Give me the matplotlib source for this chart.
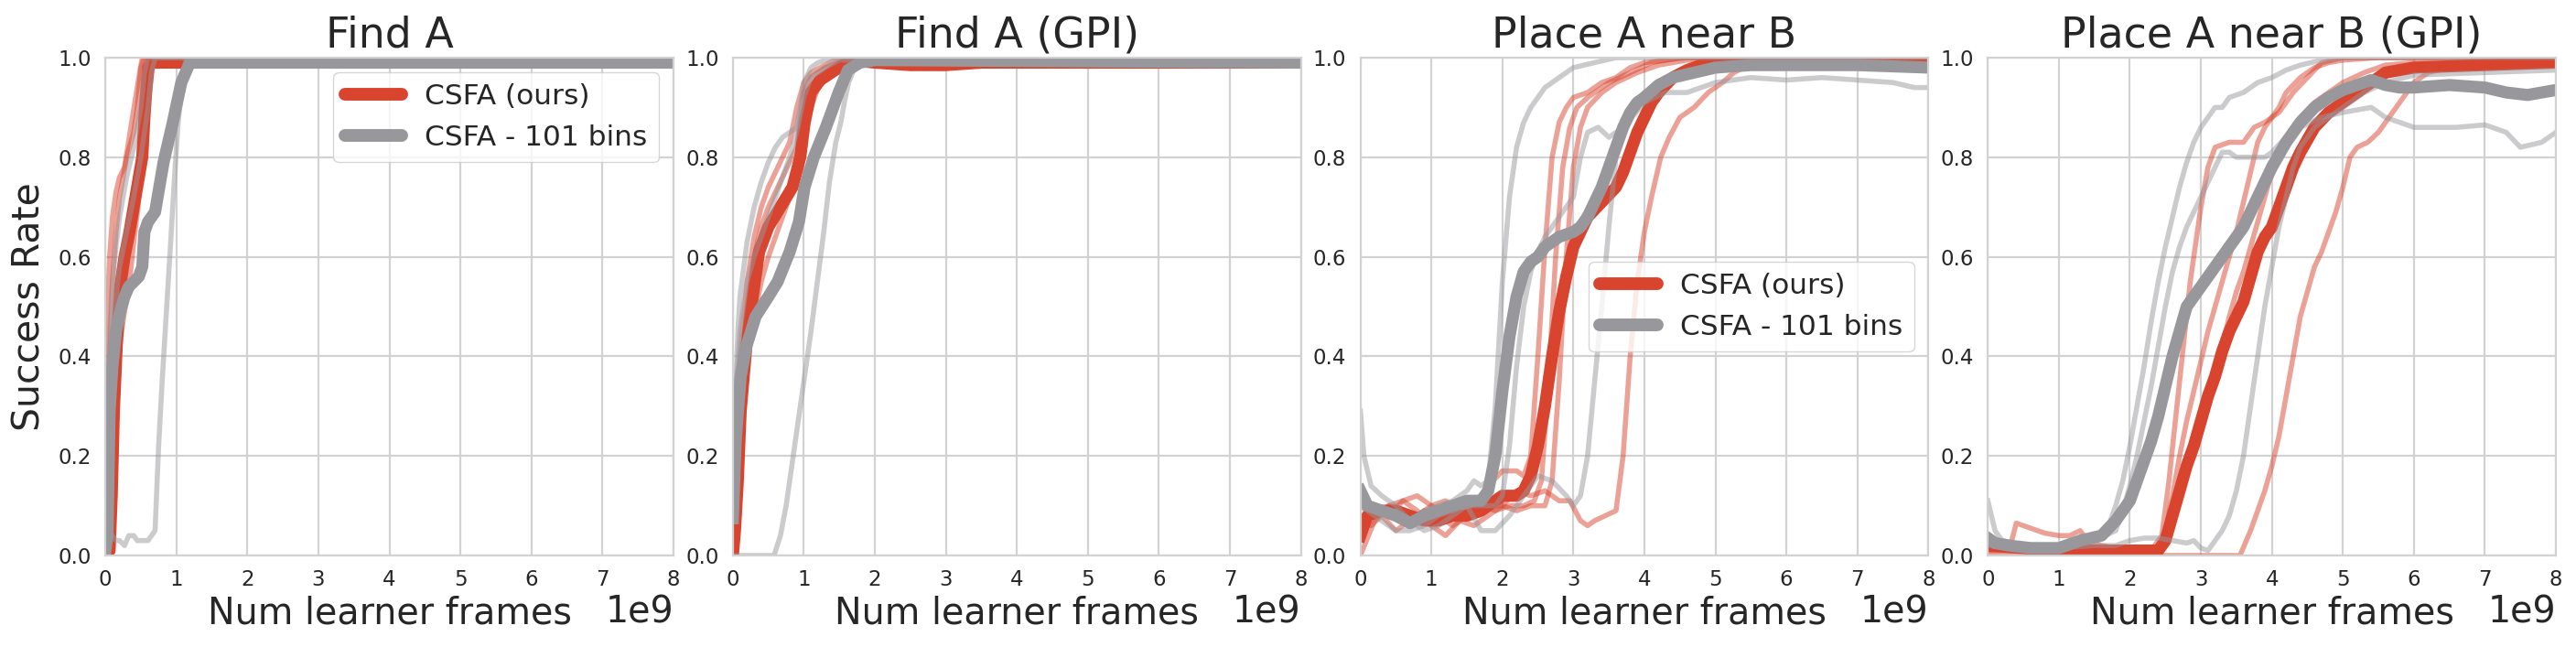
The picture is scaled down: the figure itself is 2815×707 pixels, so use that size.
import matplotlib

matplotlib.use("Agg")
import matplotlib.pyplot as plt
from matplotlib.lines import Line2D
import numpy as np

RED = "#d9442f"
GRAY = "#98979c"
TEXT = "#262626"
GRID = "#d2d2d2"

TITLES = ["Find A", "Find A (GPI)", "Place A near B", "Place A near B (GPI)"]
LABELS = ["CSFA (ours)", "CSFA - 101 bins"]
FRAME_UNIT = 1e9  # x values below are in units of 1e9 learner frames

# ---------------- Find A ----------------
FIND_RED_SEED_X = [
    [0, 0.03, 0.06, 0.1, 0.15, 0.2, 0.27, 0.37, 0.46, 0.52, 8],
    [0, 0.05, 0.1, 0.15, 0.2, 0.28, 0.34, 0.4, 0.46, 0.52, 0.55, 0.6, 8],
    [0, 0.05, 0.1, 0.15, 0.2, 0.3, 0.4, 0.45, 0.5, 0.55, 8],
]
FIND_RED_SEED_Y = [
    [0.35, 0.5, 0.6, 0.68, 0.73, 0.76, 0.78, 0.87, 0.95, 1.0, 1.0],
    [0.0, 0.0, 0.05, 0.25, 0.42, 0.5, 0.55, 0.63, 0.7, 0.83, 0.98, 1.0, 1.0],
    [0.1, 0.35, 0.55, 0.65, 0.72, 0.8, 0.85, 0.9, 0.98, 1.0, 1.0],
]
FIND_RED_MEAN_X = [0, 0.06, 0.09, 0.12, 0.16, 0.21, 0.27, 0.34, 0.4, 0.46, 0.52, 0.55, 0.58, 0.61, 0.65, 8]
FIND_RED_MEAN_Y = [0.0, 0.01, 0.12, 0.29, 0.42, 0.54, 0.6, 0.65, 0.7, 0.75, 0.8, 0.88, 0.94, 0.98, 0.99, 0.99]
FIND_GRAY_SEED_X = [
    [0, 0.05, 0.1, 0.15, 0.2, 0.27, 0.33, 0.4, 0.45, 0.5, 0.55, 0.6, 0.65, 0.7, 0.75, 0.8, 0.86, 0.92,
     0.97, 1.02, 1.08, 1.14, 8],
    [0, 0.03, 0.06, 0.1, 0.15, 0.2, 0.3, 0.4, 0.5, 0.55, 0.6, 8],
    [0, 0.03, 0.06, 0.1, 0.15, 0.2, 0.3, 0.4, 0.5, 0.6, 0.65, 0.7, 8],
]
FIND_GRAY_SEED_Y = [
    [0.0, 0.03, 0.04, 0.03, 0.03, 0.02, 0.04, 0.04, 0.03, 0.03, 0.03, 0.03, 0.04, 0.05, 0.22, 0.35, 0.49,
     0.63, 0.75, 0.86, 0.95, 1.0, 1.0],
    [0.05, 0.3, 0.45, 0.55, 0.62, 0.68, 0.76, 0.82, 0.9, 0.97, 1.0, 1.0],
    [0.0, 0.15, 0.35, 0.45, 0.52, 0.58, 0.65, 0.72, 0.8, 0.9, 0.97, 1.0, 1.0],
]
FIND_GRAY_MEAN_X = [0, 0.03, 0.06, 0.1, 0.15, 0.21, 0.27, 0.33, 0.4, 0.47, 0.52, 0.55, 0.6, 0.7, 0.82, 0.95,
                    1.07, 1.19, 8]
FIND_GRAY_MEAN_Y = [0.01, 0.04, 0.29, 0.38, 0.45, 0.49, 0.52, 0.54, 0.55, 0.56, 0.58, 0.65, 0.67, 0.69, 0.79,
                    0.87, 0.95, 0.99, 0.99]

# ---------------- Find A (GPI) ----------------
FINDG_RED_SEED_X = [
    [0, 0.05, 0.1, 0.2, 0.3, 0.4, 0.5, 0.6, 0.7, 0.8, 0.9, 0.95, 1.0, 1.1, 1.3, 1.5, 1.7, 8],
    [0, 0.05, 0.1, 0.2, 0.3, 0.4, 0.5, 0.6, 0.7, 0.8, 0.9, 1.0, 1.1, 1.2, 1.4, 1.6, 2.0, 2.5, 3.0, 4.0, 8],
    [0, 0.05, 0.1, 0.2, 0.3, 0.4, 0.5, 0.6, 0.7, 0.8, 0.9, 1.0, 1.1, 1.3, 1.5, 8],
]
FINDG_RED_SEED_Y = [
    [0.05, 0.2, 0.35, 0.5, 0.6, 0.66, 0.7, 0.73, 0.76, 0.79, 0.82, 0.88, 0.93, 0.96, 0.98, 0.99, 1.0, 1.0],
    [0.0, 0.12, 0.25, 0.4, 0.48, 0.55, 0.6, 0.64, 0.68, 0.72, 0.76, 0.82, 0.9, 0.94, 0.97, 0.99, 0.99, 0.985,
     0.985, 0.99, 0.99],
    [0.08, 0.25, 0.4, 0.55, 0.64, 0.7, 0.74, 0.77, 0.8, 0.83, 0.9, 0.95, 0.97, 0.985, 1.0, 1.0],
]
FINDG_RED_MEAN_X = [0, 0.03, 0.07, 0.11, 0.19, 0.28, 0.37, 0.5, 0.67, 0.84, 0.95, 1.01, 1.1, 1.23, 1.44, 1.66,
                    2.0, 2.5, 3.0, 3.5, 4.0, 8]
FINDG_RED_MEAN_Y = [0.0, 0.05, 0.15, 0.29, 0.42, 0.52, 0.61, 0.66, 0.7, 0.74, 0.8, 0.87, 0.93, 0.955, 0.975,
                    0.995, 0.99, 0.985, 0.985, 0.99, 0.99, 0.99]
FINDG_GRAY_SEED_X = [
    [0, 0.58, 0.67, 0.75, 0.84, 0.92, 1.01, 1.1, 1.19, 1.28, 1.36, 1.45, 1.52, 1.57, 1.63, 1.7, 1.8, 1.92, 2.1, 8],
    [0, 0.03, 0.07, 0.1, 0.2, 0.3, 0.4, 0.5, 0.6, 0.7, 0.8, 0.9, 0.95, 1.0, 1.1, 1.2, 1.4, 8],
    [0, 0.05, 0.1, 0.2, 0.3, 0.4, 0.5, 0.6, 0.7, 0.8, 0.9, 1.0, 1.1, 1.3, 1.5, 8],
]
FINDG_GRAY_SEED_Y = [
    [0.0, 0.0, 0.04, 0.1, 0.19, 0.27, 0.36, 0.45, 0.55, 0.65, 0.75, 0.83, 0.87, 0.91, 0.95, 0.975, 0.985, 0.99,
     0.995, 0.995],
    [0.1, 0.3, 0.45, 0.52, 0.63, 0.7, 0.75, 0.79, 0.82, 0.84, 0.85, 0.86, 0.9, 0.95, 0.98, 0.99, 1.0, 1.0],
    [0.2, 0.35, 0.45, 0.55, 0.6, 0.64, 0.68, 0.72, 0.76, 0.8, 0.85, 0.92, 0.96, 0.98, 0.995, 0.995],
]
FINDG_GRAY_MEAN_X = [0, 0.02, 0.04, 0.11, 0.19, 0.32, 0.5, 0.63, 0.8, 0.93, 1.01, 1.14, 1.31, 1.49, 1.62, 1.79,
                     2.0, 8]
FINDG_GRAY_MEAN_Y = [0.075, 0.15, 0.23, 0.36, 0.42, 0.48, 0.52, 0.55, 0.61, 0.67, 0.74, 0.8, 0.86, 0.93, 0.975,
                     0.99, 0.995, 0.99]

# ---------------- Place A near B ----------------
PLACE_RED_SEED_X = [
    [0, 0.2, 0.4, 0.6, 0.8, 1.0, 1.2, 1.4, 1.6, 1.8, 2.0, 2.2, 2.3, 2.4, 2.5, 2.6, 2.7, 2.8, 2.9, 3.0, 3.2,
     3.4, 3.6, 3.8, 4.0, 4.3, 4.6, 8],
    [0, 0.15, 0.3, 0.5, 0.7, 0.9, 1.1, 1.3, 1.5, 1.7, 1.9, 2.1, 2.3, 2.45, 2.55, 2.65, 2.75, 2.85, 2.95, 3.05,
     3.2, 3.5, 3.8, 4.1, 4.5, 8],
    [0, 0.2, 0.4, 0.6, 0.8, 1.0, 1.2, 1.4, 1.6, 1.8, 2.0, 2.2, 2.4, 2.6, 2.7, 2.8, 2.9, 3.0, 3.1, 3.2, 3.4,
     3.6, 3.9, 4.2, 4.6, 8],
    [0, 0.2, 0.4, 0.6, 0.8, 1.0, 1.2, 1.4, 1.6, 1.8, 2.0, 2.2, 2.4, 2.6, 2.8, 2.95, 3.1, 3.2, 3.3, 3.45, 3.6,
     3.7, 3.8, 3.9, 4.0, 4.1, 4.23, 4.35, 4.5, 4.7, 4.9, 5.1, 5.26, 5.4, 5.6, 5.8, 8],
]
PLACE_RED_SEED_Y = [
    [0.0, 0.07, 0.1, 0.11, 0.12, 0.1, 0.11, 0.09, 0.1, 0.14, 0.17, 0.17, 0.16, 0.2, 0.4, 0.62, 0.8, 0.87,
     0.9, 0.92, 0.93, 0.95, 0.96, 0.98, 0.99, 0.995, 1.0, 1.0],
    [0.08, 0.06, 0.08, 0.05, 0.07, 0.09, 0.08, 0.06, 0.08, 0.1, 0.09, 0.1, 0.1, 0.11, 0.15, 0.35, 0.6, 0.78,
     0.86, 0.9, 0.92, 0.95, 0.97, 0.99, 1.0, 1.0],
    [0.06, 0.1, 0.08, 0.11, 0.09, 0.06, 0.04, 0.07, 0.06, 0.08, 0.1, 0.09, 0.1, 0.1, 0.15, 0.35, 0.6, 0.78,
     0.86, 0.9, 0.93, 0.95, 0.97, 0.985, 0.995, 1.0],
    [0.1, 0.08, 0.1, 0.09, 0.08, 0.1, 0.08, 0.1, 0.09, 0.1, 0.1, 0.13, 0.12, 0.13, 0.11, 0.11, 0.07, 0.06,
     0.07, 0.08, 0.09, 0.2, 0.4, 0.55, 0.65, 0.72, 0.8, 0.84, 0.88, 0.9, 0.93, 0.95, 0.97, 0.98, 0.99, 1.0,
     1.0],
]
PLACE_RED_MEAN_X = [0, 0.1, 0.3, 0.5, 0.7, 0.9, 1.1, 1.3, 1.5, 1.7, 1.9, 2.0, 2.2, 2.3, 2.4, 2.5, 2.6, 2.7,
                    2.8, 2.9, 3.0, 3.1, 3.2, 3.4, 3.6, 3.7, 3.8, 3.9, 4.0, 4.1, 4.2, 4.4, 4.6, 4.8, 5.0, 5.5,
                    6.0, 7.0, 8.0]
PLACE_RED_MEAN_Y = [0.04, 0.08, 0.09, 0.09, 0.08, 0.07, 0.07, 0.08, 0.08, 0.09, 0.11, 0.12, 0.12, 0.13, 0.16,
                    0.22, 0.3, 0.4, 0.49, 0.56, 0.62, 0.65, 0.68, 0.71, 0.74, 0.77, 0.81, 0.85, 0.88, 0.91,
                    0.93, 0.96, 0.975, 0.985, 0.99, 0.995, 0.995, 0.995, 0.995]
PLACE_GRAY_SEED_X = [
    [0, 0.05, 0.15, 0.3, 0.5, 0.7, 0.9, 1.1, 1.3, 1.5, 1.6, 1.7, 1.8, 1.9, 2.0, 2.1, 2.2, 2.3, 2.4, 2.5, 2.6,
     2.8, 3.0, 3.3, 3.6, 8],
    [0, 0.1, 0.3, 0.5, 0.7, 0.9, 1.1, 1.3, 1.5, 1.7, 1.9, 2.0, 2.1, 2.2, 2.3, 2.4, 2.5, 2.6, 2.8, 3.0, 3.1,
     3.2, 3.35, 3.5, 3.7, 4.0, 4.3, 4.6, 5.0, 5.5, 6.0, 6.5, 7.0, 7.5, 7.8, 8.0],
    [0, 0.1, 0.3, 0.5, 0.7, 0.9, 1.1, 1.3, 1.5, 1.7, 1.9, 2.1, 2.3, 2.5, 2.7, 2.9, 3.0, 3.1, 3.2, 3.3, 3.4,
     3.5, 3.6, 3.7, 3.8, 4.0, 4.3, 4.6, 5.0, 5.5, 8.0],
]
PLACE_GRAY_SEED_Y = [
    [0.29, 0.2, 0.14, 0.12, 0.1, 0.07, 0.09, 0.1, 0.11, 0.13, 0.15, 0.14, 0.15, 0.3, 0.55, 0.72, 0.82, 0.87,
     0.9, 0.92, 0.94, 0.96, 0.98, 0.99, 1.0, 1.0],
    [0.1, 0.09, 0.07, 0.05, 0.05, 0.06, 0.08, 0.09, 0.1, 0.1, 0.1, 0.12, 0.22, 0.38, 0.5, 0.57, 0.61, 0.64,
     0.68, 0.72, 0.8, 0.85, 0.86, 0.84, 0.86, 0.91, 0.93, 0.93, 0.95, 0.96, 0.955, 0.96, 0.955, 0.95, 0.94,
     0.94],
    [0.12, 0.1, 0.08, 0.09, 0.07, 0.05, 0.06, 0.08, 0.1, 0.05, 0.05, 0.08, 0.12, 0.16, 0.15, 0.12, 0.1,
     0.12, 0.2, 0.35, 0.5, 0.66, 0.8, 0.87, 0.9, 0.93, 0.95, 0.97, 0.98, 0.985, 0.985],
]
PLACE_GRAY_MEAN_X = [0, 0.1, 0.3, 0.5, 0.7, 0.9, 1.1, 1.3, 1.5, 1.7, 1.8, 1.9, 2.0, 2.1, 2.2, 2.3, 2.4, 2.5,
                     2.6, 2.8, 3.0, 3.1, 3.2, 3.3, 3.4, 3.5, 3.6, 3.7, 3.8, 3.9, 4.0, 4.2, 4.4, 4.7, 5.0, 5.5,
                     6.0, 7.0, 8.0]
PLACE_GRAY_MEAN_Y = [0.13, 0.1, 0.09, 0.08, 0.065, 0.08, 0.09, 0.1, 0.11, 0.11, 0.13, 0.2, 0.33, 0.44, 0.52,
                     0.57, 0.59, 0.6, 0.62, 0.64, 0.65, 0.66, 0.68, 0.71, 0.74, 0.78, 0.82, 0.86, 0.89, 0.91,
                     0.92, 0.945, 0.96, 0.97, 0.98, 0.985, 0.985, 0.985, 0.98]

# ---------------- Place A near B (GPI) ----------------
PLACEG_RED_SEED_X = [
    [0, 0.3, 0.4, 0.6, 0.8, 1.0, 1.15, 1.3, 1.4, 1.6, 2.0, 2.3, 2.45, 2.55, 2.7, 2.85, 3.0, 3.1, 3.2, 3.4,
     3.6, 3.75, 3.9, 4.1, 4.3, 4.5, 4.7, 5.0, 8],
    [0, 0.5, 1.0, 1.5, 2.0, 2.4, 2.5, 2.6, 2.7, 2.8, 2.9, 3.0, 3.1, 3.2, 3.3, 3.4, 3.5, 3.6, 3.7, 3.8, 3.9,
     4.0, 4.1, 4.2, 4.4, 4.6, 4.8, 5.0, 5.5, 8],
    [0, 1.0, 2.0, 3.0, 3.55, 3.7, 3.8, 3.9, 4.0, 4.1, 4.2, 4.3, 4.4, 4.5, 4.6, 4.7, 4.8, 4.9, 5.0, 5.1, 5.2,
     5.35, 5.5, 5.6, 5.7, 5.8, 5.9, 6.0, 6.2, 6.5, 7.0, 8],
    [0, 1.0, 2.0, 2.4, 2.5, 2.6, 2.7, 2.8, 2.9, 3.0, 3.1, 3.2, 3.3, 3.4, 3.5, 3.6, 3.7, 3.8, 3.9, 4.0, 4.2,
     4.4, 4.6, 4.8, 5.0, 5.3, 5.6, 6.0, 7.0, 8],
]
PLACEG_RED_SEED_Y = [
    [0.02, 0.01, 0.065, 0.055, 0.045, 0.04, 0.04, 0.05, 0.03, 0.02, 0.01, 0.01, 0.04, 0.15, 0.35, 0.55, 0.7,
     0.78, 0.82, 0.83, 0.83, 0.86, 0.87, 0.89, 0.93, 0.96, 0.99, 1.0, 1.0],
    [0.01, 0.01, 0.01, 0.01, 0.01, 0.01, 0.05, 0.12, 0.2, 0.27, 0.33, 0.39, 0.45, 0.5, 0.55, 0.6, 0.65, 0.71,
     0.77, 0.83, 0.86, 0.88, 0.9, 0.93, 0.96, 0.98, 0.99, 0.995, 1.0, 1.0],
    [0.0, 0.0, 0.0, 0.0, 0.0, 0.05, 0.09, 0.13, 0.18, 0.24, 0.32, 0.4, 0.48, 0.53, 0.58, 0.61, 0.65, 0.69,
     0.74, 0.8, 0.82, 0.83, 0.85, 0.87, 0.89, 0.91, 0.93, 0.95, 0.97, 0.98, 0.985, 0.99],
    [0.01, 0.01, 0.01, 0.01, 0.02, 0.06, 0.11, 0.16, 0.21, 0.26, 0.31, 0.36, 0.42, 0.48, 0.53, 0.57, 0.62,
     0.67, 0.72, 0.77, 0.84, 0.88, 0.91, 0.93, 0.95, 0.97, 0.985, 0.99, 0.99, 0.995],
]
PLACEG_RED_MEAN_X = [0, 0.5, 1.0, 1.5, 2.0, 2.4, 2.5, 2.6, 2.7, 2.8, 2.9, 3.0, 3.1, 3.2, 3.3, 3.4, 3.5, 3.6,
                     3.7, 3.8, 3.9, 4.0, 4.1, 4.2, 4.3, 4.4, 4.6, 4.8, 5.0, 5.2, 5.4, 5.6, 5.8, 6.0, 7.0, 8.0]
PLACEG_RED_MEAN_Y = [0.02, 0.015, 0.01, 0.01, 0.01, 0.01, 0.03, 0.08, 0.13, 0.18, 0.22, 0.27, 0.32, 0.36,
                     0.41, 0.45, 0.48, 0.51, 0.56, 0.61, 0.64, 0.66, 0.7, 0.74, 0.78, 0.81, 0.86, 0.89, 0.91,
                     0.93, 0.95, 0.97, 0.975, 0.98, 0.985, 0.99]
PLACEG_GRAY_SEED_X = [
    [0, 0.1, 0.2, 0.5, 1.0, 1.3, 1.5, 1.6, 1.7, 1.8, 1.9, 2.0, 2.1, 2.2, 2.3, 2.4, 2.5, 2.6, 2.7, 2.8, 2.9,
     3.0, 3.1, 3.2, 3.3, 3.4, 3.6, 3.8, 4.0, 4.2, 4.4, 4.7, 5.0, 8],
    [0, 0.2, 0.5, 1.0, 1.5, 1.8, 1.9, 2.0, 2.1, 2.2, 2.3, 2.4, 2.5, 2.6, 2.7, 2.8, 2.9, 3.0, 3.1, 3.2, 3.3,
     3.4, 3.5, 3.7, 3.9, 4.0, 4.2, 4.4, 4.7, 5.0, 5.2, 5.4, 5.6, 5.8, 6.0, 6.3, 6.6, 7.0, 7.3, 7.5, 7.8, 8.0],
    [0, 0.3, 0.7, 1.0, 1.5, 1.8, 2.0, 2.2, 2.4, 2.6, 2.8, 2.9, 3.0, 3.1, 3.2, 3.3, 3.4, 3.5, 3.6, 3.7, 3.8,
     3.9, 4.0, 4.1, 4.2, 4.3, 4.4, 4.6, 4.8, 5.0, 5.3, 5.6, 6.0, 7.0, 8.0],
]
PLACEG_GRAY_SEED_Y = [
    [0.11, 0.05, 0.03, 0.02, 0.02, 0.03, 0.03, 0.04, 0.06, 0.1, 0.15, 0.22, 0.3, 0.38, 0.47, 0.55, 0.62, 0.68,
     0.74, 0.79, 0.83, 0.86, 0.88, 0.9, 0.9, 0.92, 0.93, 0.95, 0.96, 0.975, 0.985, 0.995, 1.0, 1.0],
    [0.03, 0.02, 0.02, 0.02, 0.03, 0.05, 0.09, 0.14, 0.2, 0.27, 0.34, 0.42, 0.5, 0.57, 0.62, 0.66, 0.69, 0.72,
     0.75, 0.78, 0.81, 0.81, 0.8, 0.8, 0.8, 0.81, 0.84, 0.86, 0.88, 0.89, 0.895, 0.9, 0.88, 0.87, 0.86, 0.86,
     0.86, 0.865, 0.85, 0.82, 0.83, 0.85],
    [0.02, 0.015, 0.01, 0.015, 0.02, 0.02, 0.03, 0.035, 0.035, 0.03, 0.025, 0.03, 0.015, 0.01, 0.03, 0.05,
     0.08, 0.13, 0.2, 0.3, 0.4, 0.5, 0.58, 0.66, 0.72, 0.78, 0.82, 0.86, 0.88, 0.9, 0.93, 0.95, 0.965, 0.97,
     0.975],
]
PLACEG_GRAY_MEAN_X = [0, 0.1, 0.3, 0.6, 1.0, 1.3, 1.6, 1.8, 1.9, 2.0, 2.1, 2.2, 2.3, 2.4, 2.5, 2.6, 2.7, 2.8,
                      2.9, 3.0, 3.2, 3.4, 3.6, 3.8, 4.0, 4.2, 4.4, 4.6, 4.8, 5.0, 5.2, 5.4, 5.6, 5.8, 6.0, 6.5,
                      7.0, 7.3, 7.6, 8.0]
PLACEG_GRAY_MEAN_Y = [0.035, 0.025, 0.02, 0.015, 0.015, 0.03, 0.04, 0.07, 0.09, 0.11, 0.15, 0.19, 0.23, 0.28,
                      0.34, 0.4, 0.45, 0.5, 0.52, 0.54, 0.58, 0.62, 0.66, 0.72, 0.78, 0.83, 0.87, 0.9, 0.92,
                      0.935, 0.945, 0.955, 0.945, 0.94, 0.94, 0.945, 0.94, 0.93, 0.925, 0.935]

PANELS = [
    (FIND_RED_SEED_X, FIND_RED_SEED_Y, FIND_RED_MEAN_X, FIND_RED_MEAN_Y,
     FIND_GRAY_SEED_X, FIND_GRAY_SEED_Y, FIND_GRAY_MEAN_X, FIND_GRAY_MEAN_Y),
    (FINDG_RED_SEED_X, FINDG_RED_SEED_Y, FINDG_RED_MEAN_X, FINDG_RED_MEAN_Y,
     FINDG_GRAY_SEED_X, FINDG_GRAY_SEED_Y, FINDG_GRAY_MEAN_X, FINDG_GRAY_MEAN_Y),
    (PLACE_RED_SEED_X, PLACE_RED_SEED_Y, PLACE_RED_MEAN_X, PLACE_RED_MEAN_Y,
     PLACE_GRAY_SEED_X, PLACE_GRAY_SEED_Y, PLACE_GRAY_MEAN_X, PLACE_GRAY_MEAN_Y),
    (PLACEG_RED_SEED_X, PLACEG_RED_SEED_Y, PLACEG_RED_MEAN_X, PLACEG_RED_MEAN_Y,
     PLACEG_GRAY_SEED_X, PLACEG_GRAY_SEED_Y, PLACEG_GRAY_MEAN_X, PLACEG_GRAY_MEAN_Y),
]
LEGEND_LOCS = {0: "upper right", 2: "center right"}


def draw_method(ax, seeds_x, seeds_y, mean_x, mean_y, color):
    for sx, sy in zip(seeds_x, seeds_y):
        ax.plot(np.asarray(sx) * FRAME_UNIT, sy, color=color, alpha=0.5, linewidth=4.0)
    ax.plot(np.asarray(mean_x) * FRAME_UNIT, mean_y, color=color, linewidth=9.5)


def main() -> None:
    plt.rcParams["font.family"] = "DejaVu Sans"
    plt.rcParams["text.color"] = TEXT
    plt.rcParams["axes.labelcolor"] = TEXT
    plt.rcParams["xtick.color"] = TEXT
    plt.rcParams["ytick.color"] = TEXT

    fig, axes = plt.subplots(1, 4, figsize=(28.15, 7.07), dpi=100)
    fig.subplots_adjust(left=0.0409, right=0.9922, bottom=0.1414, top=0.9109, wspace=0.1047)

    for i, (ax, data) in enumerate(zip(axes, PANELS)):
        rsx, rsy, rmx, rmy, gsx, gsy, gmx, gmy = data
        draw_method(ax, rsx, rsy, rmx, rmy, RED)
        draw_method(ax, gsx, gsy, gmx, gmy, GRAY)

        ax.set_xlim(0, 8 * FRAME_UNIT)
        ax.set_ylim(0, 1.0)
        ax.set_xticks(np.arange(0, 9) * FRAME_UNIT)
        ax.set_yticks(np.linspace(0, 1, 6))
        ax.yaxis.set_major_formatter(matplotlib.ticker.FormatStrFormatter("%.1f"))
        ax.tick_params(axis="both", length=0, labelsize=16.5, pad=11)
        ax.xaxis.get_offset_text().set_fontsize(28.5)
        ax.grid(True, color=GRID, linewidth=1.6)
        ax.set_axisbelow(True)
        for spine in ax.spines.values():
            spine.set_color(GRID)
            spine.set_linewidth(1.6)

        ax.set_title(TITLES[i], fontsize=33, pad=8)
        ax.set_xlabel("Num learner frames", fontsize=28.5, labelpad=4)
        if i == 0:
            ax.set_ylabel("Success Rate", fontsize=29.5, labelpad=8)

        if i in LEGEND_LOCS:
            handles = [
                Line2D([], [], color=RED, linewidth=10, solid_capstyle="round"),
                Line2D([], [], color=GRAY, linewidth=10, solid_capstyle="round"),
            ]
            ax.legend(handles, LABELS, loc=LEGEND_LOCS[i], fontsize=22.5, framealpha=0.8,
                      edgecolor="#cccccc")

    fig.savefig("out.png")
    plt.close(fig)


if __name__ == "__main__":
    main()
